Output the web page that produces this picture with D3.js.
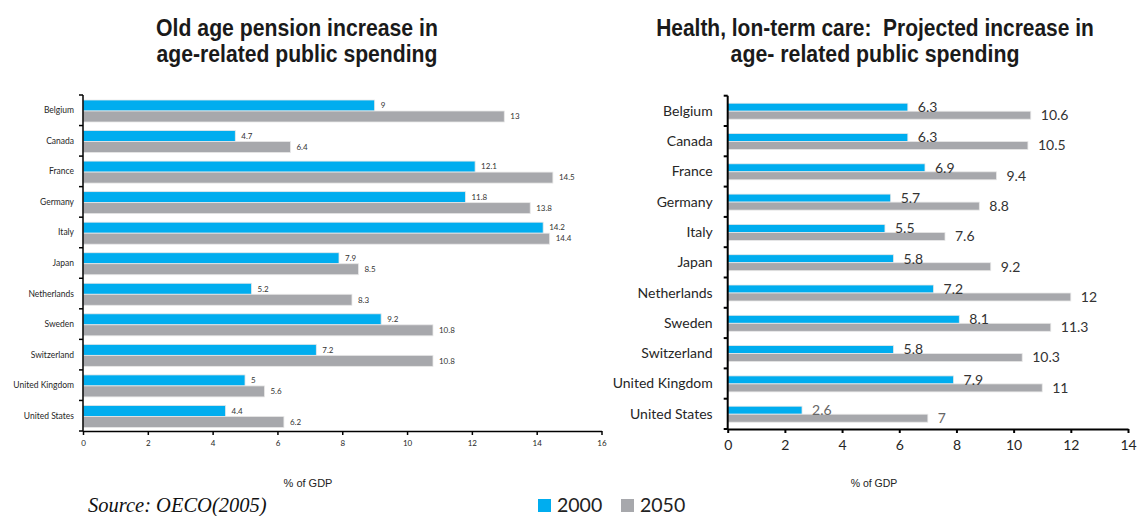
<!DOCTYPE html>
<html>
<head>
<meta charset="utf-8">
<script src="https://cdn.jsdelivr.net/npm/d3@7"></script>
<style>
  body { margin: 0; background: #fff; }
  svg { display: block; }
</style>
</head>
<body>
<svg id="chart" width="1137" height="516"></svg>
<script>
const countries = ["Belgium", "Canada", "France", "Germany", "Italy", "Japan",
  "Netherlands", "Sweden", "Switzerland", "United Kingdom", "United States"];
const years = ["2000", "2050"];

const pension2000 = [9, 4.7, 12.1, 11.8, 14.2, 7.9, 5.2, 9.2, 7.2, 5, 4.4];
const pension2050 = [13, 6.4, 14.5, 13.8, 14.4, 8.5, 8.3, 10.8, 10.8, 5.6, 6.2];
const health2000 = [6.3, 6.3, 6.9, 5.7, 5.5, 5.8, 7.2, 8.1, 5.8, 7.9, 2.6];
const health2050 = [10.6, 10.5, 9.4, 8.8, 7.6, 9.2, 12, 11.3, 10.3, 11, 7];

const pensionTicks = [0, 2, 4, 6, 8, 10, 12, 14, 16];
const healthTicks = [0, 2, 4, 6, 8, 10, 12, 14];

const colors = { "2000": "#00adef", "2050": "#a7a8ac" };

const svg = d3.select("#chart");

function drawPanel(opt) {
    const g = svg.append("g");
    const x = d3.scaleLinear().domain(opt.domain).range([opt.left, opt.right]);
    const y = d3.scaleBand().domain(countries).range([opt.top, opt.bottom]);
    const sub = d3.scaleBand().domain(years).range(opt.subRange);

    const rows = countries.map((c, i) => ({ country: c, last: i === countries.length - 1, values: [
        { year: "2000", v: opt.v2000[i] },
        { year: "2050", v: opt.v2050[i] }
    ]}));

    const row = g.selectAll(".row")
        .data(rows)
        .enter()
        .append("g")
        .attr("transform", d => `translate(0, ${y(d.country)})`);

    row.selectAll("rect")
        .data(d => d.values)
        .enter()
        .append("rect")
        .attr("x", x(0))
        .attr("y", d => sub(d.year))
        .attr("width", d => x(d.v) - x(0))
        .attr("height", sub.bandwidth())
        .attr("fill", d => colors[d.year])
        .attr("stroke", "#e8e8e8")
        .attr("stroke-width", 0.8);

    // US labels on the right panel are a lighter grey in the original
    row.each(function (r) {
        d3.select(this).selectAll("text")
            .data(r.values)
            .enter()
            .append("text")
            .attr("x", d => x(d.v) + opt.labelGap)
            .attr("y", d => sub(d.year) + sub.bandwidth() / 2)
            .attr("dy", "0.35em")
            .attr("font-family", "Lato, 'Open Sans', sans-serif")
            .attr("font-size", opt.valueSize)
            .attr("fill", opt.lastGrey && r.last ? "#666" : "#333")
            .text(d => d.v);
    });

    // category axis with ticks on band boundaries
    const yAxis = g.append("g");
    yAxis.append("line")
        .attr("x1", x(0)).attr("x2", x(0))
        .attr("y1", opt.top).attr("y2", opt.bottom)
        .attr("stroke", "#000").attr("stroke-width", opt.axisWidth);
    yAxis.selectAll(".tk")
        .data(countries.concat(["_end"]))
        .enter()
        .append("line")
        .attr("x1", x(0) - 4).attr("x2", x(0))
        .attr("y1", d => d === "_end" ? opt.bottom : y(d))
        .attr("y2", d => d === "_end" ? opt.bottom : y(d))
        .attr("stroke", "#000").attr("stroke-width", opt.axisWidth);
    yAxis.selectAll(".cat")
        .data(countries)
        .enter()
        .append("text")
        .attr("x", x(0) - opt.catGap)
        .attr("y", d => y(d) + y.bandwidth() / 2)
        .attr("dy", "0.35em")
        .attr("text-anchor", "end")
        .attr("font-family", "Lato, 'Open Sans', sans-serif")
        .attr("font-size", opt.catSize)
        .attr("fill", "#262626")
        .text(d => d);

    const xAxis = g.append("g")
        .attr("transform", `translate(0, ${opt.bottom})`)
        .call(d3.axisBottom(x).tickValues(opt.ticks).tickSize(4).tickPadding(opt.tickPad).tickSizeOuter(0));
    xAxis.select(".domain").attr("stroke", "#000").attr("stroke-width", opt.axisWidth);
    xAxis.selectAll(".tick line").attr("stroke", "#000").attr("stroke-width", opt.axisWidth);
    xAxis.selectAll("text")
        .attr("font-family", "Lato, 'Open Sans', sans-serif")
        .attr("font-size", opt.tickSize)
        .attr("fill", "#262626");

    g.append("text")
        .attr("x", opt.gdpX)
        .attr("y", 487)
        .attr("text-anchor", "middle")
        .attr("font-family", "Arial, 'Liberation Sans', sans-serif")
        .attr("font-size", opt.gdpSize)
        .attr("fill", "#222")
        .text("% of GDP");

    // title: tall narrow bold text, squeezed horizontally to the original width
    g.selectAll(".title")
        .data(opt.title)
        .enter()
        .append("text")
        .attr("x", 0)
        .attr("y", 0)
        .attr("text-anchor", "middle")
        .attr("font-family", "Arial, 'Liberation Sans', sans-serif")
        .attr("font-weight", "bold")
        .attr("font-size", 24)
        .attr("fill", "#1a1a1a")
        .style("white-space", "pre")
        .text(d => d)
        .attr("transform", function (d, i) {
            const k = opt.titleWidths[i] / this.getComputedTextLength();
            return `translate(${opt.titleX}, ${36 + i * 25.5}) scale(${k}, 1)`;
        });
}

drawPanel({
    domain: [0, 16], left: 83, right: 601.5, top: 95, bottom: 431,
    subRange: [5, 27], v2000: pension2000, v2050: pension2050,
    ticks: pensionTicks, labelGap: 6, valueSize: 8, catSize: 8.5, catGap: 9,
    tickSize: 8, tickPad: 5, axisWidth: 1.5, gdpX: 308, gdpSize: 11, titleX: 297,
    title: ["Old age pension increase in", "age-related public spending"],
    titleWidths: [282, 281]
});

drawPanel({
    domain: [0, 14], left: 727.7, right: 1128, top: 95.7, bottom: 429,
    subRange: [7.5, 23.5], v2000: health2000, v2050: health2050, lastGrey: true,
    ticks: healthTicks, labelGap: 10, valueSize: 14, catSize: 14, catGap: 15,
    tickSize: 14, tickPad: 7, axisWidth: 2, gdpX: 874, gdpSize: 10.5, titleX: 875,
    title: ["Health, lon-term care:  Projected increase in", "age- related public spending"],
    titleWidths: [438, 289]
});

// legend
const legend = svg.append("g");
legend.selectAll("rect")
    .data(years)
    .enter()
    .append("rect")
    .attr("x", (d, i) => 538 + i * 83)
    .attr("y", 499)
    .attr("width", 13)
    .attr("height", 13)
    .attr("fill", d => colors[d]);
legend.selectAll("text")
    .data(years)
    .enter()
    .append("text")
    .attr("x", (d, i) => 557 + i * 83)
    .attr("y", 512)
    .attr("font-family", "Lato, 'Open Sans', sans-serif")
    .attr("font-size", 19.5)
    .attr("fill", "#222")
    .text(d => d);

svg.append("text")
    .attr("x", 88)
    .attr("y", 512)
    .attr("font-family", "'Liberation Serif', 'Times New Roman', serif")
    .attr("font-style", "italic")
    .attr("font-size", 20.5)
    .attr("fill", "#111")
    .text("Source: OECO(2005)");
</script>
</body>
</html>
